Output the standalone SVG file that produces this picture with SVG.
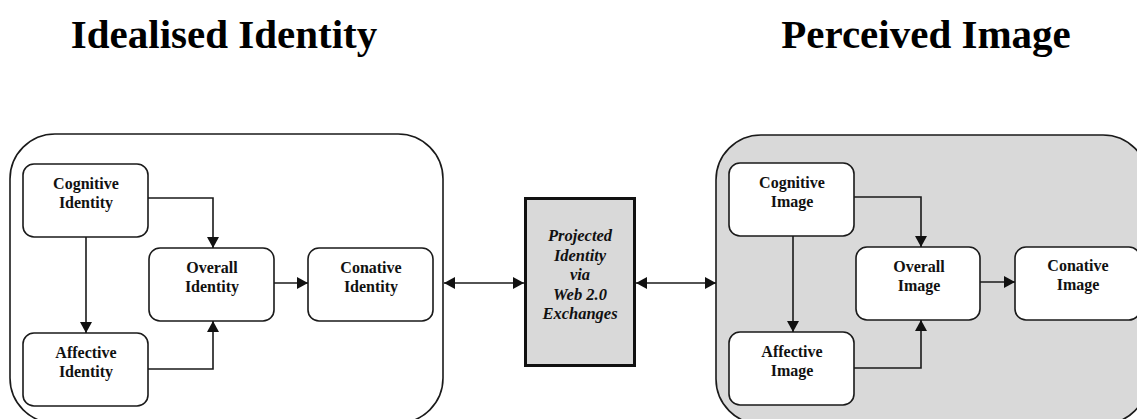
<svg xmlns="http://www.w3.org/2000/svg" width="1137" height="419" viewBox="0 0 1137 419">
  <style>
    .title { font-family: "Liberation Serif", "Times New Roman", serif; font-weight: bold; font-size: 41px; fill: #000; text-anchor: middle; }
    .panel { stroke: #1a1a1a; stroke-width: 1.6; }
    .node rect { fill: #fff; stroke: #1a1a1a; stroke-width: 1.6; }
    .label { font-family: "Liberation Serif", "Times New Roman", serif; font-weight: bold; font-size: 16px; fill: #111; text-anchor: middle; }
    .hub { fill: #d9d9d9; stroke: #111; stroke-width: 3; }
    .hub-label { font-family: "Liberation Serif", "Times New Roman", serif; font-weight: bold; font-style: italic; font-size: 16.5px; fill: #111; text-anchor: middle; }
    .link { fill: none; stroke: #1a1a1a; stroke-width: 1.6; }
  </style>
  <defs>
    <marker id="arrow" viewBox="0 0 11 12" refX="11" refY="6" markerWidth="11" markerHeight="12" markerUnits="userSpaceOnUse" orient="auto-start-reverse">
      <path d="M0,0 L11,6 L0,12 Z" fill="#111"/>
    </marker>
  </defs>

  <!-- Titles -->
  <text class="title" x="224" y="48">Idealised Identity</text>
  <text class="title" x="926" y="48">Perceived Image</text>

  <!-- Panels -->
  <rect id="panel-identity" class="panel" x="10" y="134" width="433" height="289" rx="45" ry="45" fill="#fff"/>
  <rect id="panel-image" class="panel" x="716" y="135" width="432" height="289" rx="45" ry="45" fill="#d9d9d9"/>

  <!-- Identity nodes -->
  <g id="cognitive-identity" class="node">
    <rect x="23" y="164" width="125" height="73" rx="11"/>
    <text class="label" x="86" y="189">Cognitive</text>
    <text class="label" x="86" y="207.5">Identity</text>
  </g>
  <g id="affective-identity" class="node">
    <rect x="23" y="333" width="125" height="73" rx="11"/>
    <text class="label" x="86" y="358">Affective</text>
    <text class="label" x="86" y="376.5">Identity</text>
  </g>
  <g id="overall-identity" class="node">
    <rect x="149" y="248" width="125" height="73" rx="11"/>
    <text class="label" x="212" y="273">Overall</text>
    <text class="label" x="212" y="291.5">Identity</text>
  </g>
  <g id="conative-identity" class="node">
    <rect x="308" y="248" width="125" height="73" rx="11"/>
    <text class="label" x="371" y="273">Conative</text>
    <text class="label" x="371" y="291.5">Identity</text>
  </g>

  <!-- Central exchange node -->
  <g id="projected-identity">
    <rect class="hub" x="525.5" y="198.5" width="109" height="167"/>
    <text class="hub-label" x="580" y="241">Projected</text>
    <text class="hub-label" x="580" y="261">Identity</text>
    <text class="hub-label" x="580" y="280">via</text>
    <text class="hub-label" x="580" y="300">Web 2.0</text>
    <text class="hub-label" x="580" y="319">Exchanges</text>
  </g>

  <!-- Image nodes -->
  <g id="cognitive-image" class="node">
    <rect x="729" y="163" width="125" height="73" rx="11"/>
    <text class="label" x="792" y="188">Cognitive</text>
    <text class="label" x="792" y="206.5">Image</text>
  </g>
  <g id="affective-image" class="node">
    <rect x="729" y="332" width="125" height="73" rx="11"/>
    <text class="label" x="792" y="357">Affective</text>
    <text class="label" x="792" y="375.5">Image</text>
  </g>
  <g id="overall-image" class="node">
    <rect x="856" y="247" width="124" height="73" rx="11"/>
    <text class="label" x="919" y="272">Overall</text>
    <text class="label" x="919" y="290.5">Image</text>
  </g>
  <g id="conative-image" class="node">
    <rect x="1015" y="247" width="125" height="73" rx="11"/>
    <text class="label" x="1078" y="271">Conative</text>
    <text class="label" x="1078" y="289.5">Image</text>
  </g>

  <!-- Connectors -->
  <g id="connectors">
    <path class="link" d="M148,198 H213 V248" marker-end="url(#arrow)"/>
    <path class="link" d="M86,237 V333" marker-end="url(#arrow)"/>
    <path class="link" d="M148,369 H213 V321" marker-end="url(#arrow)"/>
    <path class="link" d="M274,283 H308" marker-end="url(#arrow)"/>

    <path class="link" d="M444,283 H524" marker-start="url(#arrow)" marker-end="url(#arrow)"/>
    <path class="link" d="M636,283 H716" marker-start="url(#arrow)" marker-end="url(#arrow)"/>

    <path class="link" d="M854,197 H921 V247" marker-end="url(#arrow)"/>
    <path class="link" d="M793,236 V332" marker-end="url(#arrow)"/>
    <path class="link" d="M854,368 H921 V320" marker-end="url(#arrow)"/>
    <path class="link" d="M980,282 H1015" marker-end="url(#arrow)"/>
  </g>
</svg>
